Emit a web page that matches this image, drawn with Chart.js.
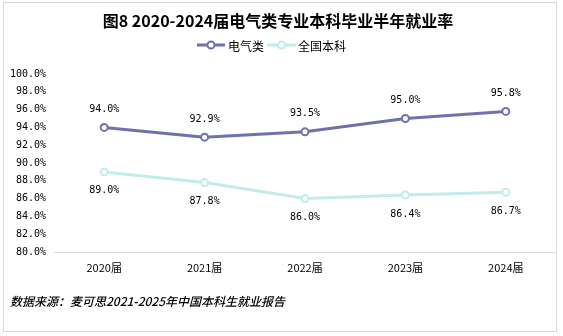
<!DOCTYPE html>
<html>
<head>
<meta charset="utf-8">
<script src="https://cdn.jsdelivr.net/npm/chart.js@4/dist/chart.umd.min.js"></script>
<style>
html,body{margin:0;padding:0;background:#fff;}
#wrap{width:563px;height:336px;position:relative;}
</style>
</head>
<body>
<div id="wrap"><canvas id="c" width="563" height="336"></canvas></div>
<script>
const categories = ['2020届', '2021届', '2022届', '2023届', '2024届'];
const electrical = [94.0, 92.9, 93.5, 95.0, 95.8];
const national = [89.0, 87.8, 86.0, 86.4, 86.7];
const seriesNames = ['电气类', '全国本科'];
const seriesColors = ['#6F70AE', '#C2EBEA'];
const yMin = 80, yMax = 100, yStep = 2;
const titleText = '图8 2020-2024届电气类专业本科毕业半年就业率';
const sourceText = '数据来源：麦可思2021-2025年中国本科生就业报告';

const CJK = "'Noto Sans CJK SC', 'DejaVu Sans', sans-serif";
const MONO = "'DejaVu Sans Mono', 'Noto Sans CJK SC', monospace";

const decorPlugin = {
  id: 'decor',
  beforeDraw(chart) {
    const ctx = chart.ctx;
    ctx.save();
    ctx.fillStyle = '#ffffff';
    ctx.fillRect(0, 0, chart.width, chart.height);
    ctx.restore();
  },
  afterDatasetsDraw(chart) {
    const ctx = chart.ctx;
    ctx.save();
    ctx.font = '10px ' + MONO;
    ctx.fillStyle = '#000';
    ctx.textAlign = 'center';
    ctx.textBaseline = 'middle';
    chart.data.datasets.forEach((ds, i) => {
      const meta = chart.getDatasetMeta(i);
      meta.data.forEach((pt, j) => {
        const v = ds.data[j];
        const dy = i === 0 ? -18 : 19;
        ctx.fillText(v.toFixed(1) + '%', pt.x, pt.y + dy);
      });
    });
    ctx.restore();
  },
  afterDraw(chart) {
    const ctx = chart.ctx;
    ctx.save();
    // frame
    ctx.strokeStyle = '#d9d9d9';
    ctx.lineWidth = 1;
    ctx.strokeRect(3.5, 2.5, 553, 329);
    // title
    ctx.fillStyle = '#000';
    ctx.font = 'bold 16px ' + CJK;
    ctx.textAlign = 'center';
    ctx.textBaseline = 'middle';
    ctx.fillText(titleText, 278, 21);
    // legend
    ctx.font = '12px ' + CJK;
    ctx.textAlign = 'left';
    const items = [
      {x0: 197, x1: 225, tx: 228},
      {x0: 267, x1: 296, tx: 298}
    ];
    chart.data.datasets.forEach((ds, i) => {
      const it = items[i];
      const y = 45;
      ctx.strokeStyle = ds.borderColor;
      ctx.lineWidth = 3;
      ctx.beginPath();
      ctx.moveTo(it.x0, y);
      ctx.lineTo(it.x1, y);
      ctx.stroke();
      ctx.beginPath();
      ctx.arc((it.x0 + it.x1) / 2, y, 3.5, 0, Math.PI * 2);
      ctx.fillStyle = '#fff';
      ctx.fill();
      ctx.lineWidth = 2;
      ctx.stroke();
      ctx.fillStyle = '#000';
      ctx.fillText(ds.label, it.tx, y + 1);
    });
    // source
    ctx.font = 'italic 500 12px ' + CJK;
    ctx.textAlign = 'left';
    ctx.fillStyle = '#000';
    ctx.fillText(sourceText, 10, 301);
    ctx.restore();
  }
};

new Chart(document.getElementById('c'), {
  type: 'line',
  data: {
    labels: categories,
    datasets: [
      {
        label: seriesNames[0],
        data: electrical,
        borderColor: seriesColors[0],
        backgroundColor: seriesColors[0],
        borderWidth: 3,
        pointRadius: 3.5,
        pointBorderWidth: 2,
        pointBackgroundColor: '#fff',
        pointBorderColor: seriesColors[0],
        tension: 0
      },
      {
        label: seriesNames[1],
        data: national,
        borderColor: seriesColors[1],
        backgroundColor: seriesColors[1],
        borderWidth: 3,
        pointRadius: 3.5,
        pointBorderWidth: 2,
        pointBackgroundColor: '#fff',
        pointBorderColor: seriesColors[1],
        tension: 0
      }
    ]
  },
  options: {
    responsive: false,
    animation: false,
    devicePixelRatio: 1,
    layout: { padding: { left: 0, right: 7, top: 74, bottom: 54 } },
    plugins: {
      legend: { display: false },
      title: { display: false },
      tooltip: { enabled: false }
    },
    scales: {
      x: {
        type: 'category',
        offset: true,
        grid: { display: false, drawTicks: false, tickLength: 0 },
        border: { display: true, color: '#d9d9d9', width: 1 },
        ticks: {
          color: '#000',
          padding: 9,
          maxRotation: 0,
          autoSkip: false,
          font: { family: CJK, size: 11 }
        },
        afterFit(scale) { scale.height = 30; }
      },
      y: {
        min: yMin,
        max: yMax,
        grid: { display: false, drawTicks: false, tickLength: 0 },
        border: { display: false },
        ticks: {
          stepSize: yStep,
          color: '#000',
          padding: 8,
          font: { family: MONO, size: 10 },
          callback: (v) => v.toFixed(1) + '%'
        },
        afterFit(scale) { scale.width = 54; }
      }
    }
  },
  plugins: [decorPlugin]
});
</script>
</body>
</html>
